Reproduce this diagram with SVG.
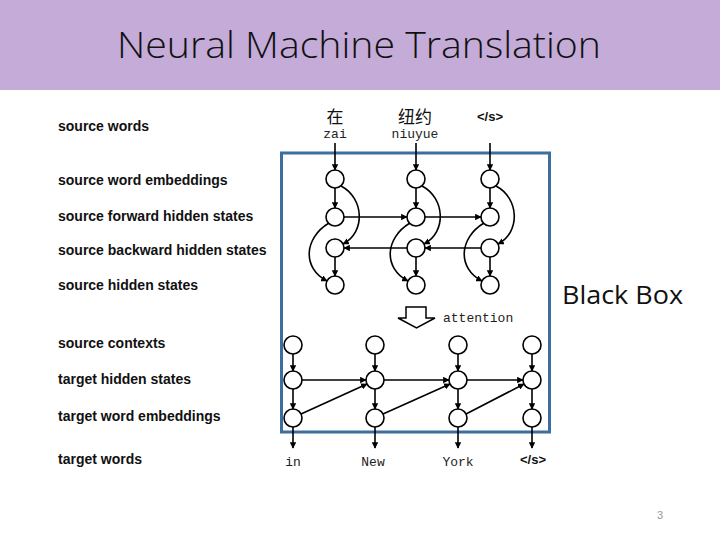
<svg xmlns="http://www.w3.org/2000/svg" width="720" height="540" viewBox="0 0 720 540">
<style>
.lbl{font-family:"Liberation Sans",Arial,sans-serif;font-weight:bold;font-size:14px;fill:#111}
.node{fill:#fff;stroke:#000;stroke-width:1.6}
.e{fill:none;stroke:#000;stroke-width:1.6;marker-end:url(#ah)}
.mono{font-family:"Liberation Mono","DejaVu Sans Mono",monospace;font-size:13px;fill:#222}
</style>
<defs>
<marker id="ah" viewBox="0 0 10 10" refX="9" refY="5" markerWidth="6.5" markerHeight="6.5" orient="auto" markerUnits="userSpaceOnUse">
<path d="M0,0 L10,5 L0,10 z" fill="#000"/>
</marker>
</defs>
<rect width="720" height="540" fill="#fff"/>
<g id="header">
<rect x="0" y="0" width="720" height="90" fill="#c4abd8"/>
<text x="359" y="58" text-anchor="middle" font-family="'Open Sans','Liberation Sans',sans-serif" font-weight="300" font-size="37" fill="#111" textLength="484" lengthAdjust="spacingAndGlyphs">Neural Machine Translation</text>
</g>
<g id="labels">
<text class="lbl" x="58" y="131">source words</text>
<text class="lbl" x="58" y="185">source word embeddings</text>
<text class="lbl" x="58" y="221">source forward hidden states</text>
<text class="lbl" x="58" y="255">source backward hidden states</text>
<text class="lbl" x="58" y="290">source hidden states</text>
<text class="lbl" x="58" y="348">source contexts</text>
<text class="lbl" x="58" y="384">target hidden states</text>
<text class="lbl" x="58" y="421">target word embeddings</text>
<text class="lbl" x="58" y="464">target words</text>
</g>
<g id="blackbox">
<rect x="281.5" y="153" width="268" height="279" fill="none" stroke="#3d6f9e" stroke-width="3"/>
<text x="562" y="304" font-family="'Open Sans','Liberation Sans',sans-serif" font-size="25" fill="#111" textLength="121" lengthAdjust="spacingAndGlyphs">Black Box</text>
</g>
<g id="source-words">
<text x="335" y="123" text-anchor="middle" font-family="'Noto Sans CJK SC',sans-serif" font-size="17" fill="#111">在</text>
<text x="335" y="138" text-anchor="middle" class="mono" font-size="11">zai</text>
<text x="415" y="123" text-anchor="middle" font-family="'Noto Sans CJK SC',sans-serif" font-size="17" fill="#111">纽约</text>
<text x="415" y="138" text-anchor="middle" class="mono" font-size="11">niuyue</text>
<text x="490" y="121" text-anchor="middle" font-family="'Liberation Sans',sans-serif" font-weight="bold" font-size="13" fill="#111">&lt;/s&gt;</text>
</g>
<g id="connectors">
<path class="e" d="M335,143 V170"/>
<path class="e" d="M416,143 V170"/>
<path class="e" d="M490,143 V170"/>
<path class="e" d="M335,188 V208"/>
<path class="e" d="M416,188 V208"/>
<path class="e" d="M490,188 V208"/>
<path class="e" d="M335,257 V276"/>
<path class="e" d="M416,257 V276"/>
<path class="e" d="M490,257 V276"/>
<path class="e" d="M344,217 H407"/>
<path class="e" d="M425,217 H481"/>
<path class="e" d="M481,248 H425"/>
<path class="e" d="M407,248 H344"/>
<path class="e" d="M341,186 C364,198 366,232 343,244"/>
<path class="e" d="M422,186 C445,198 447,232 424,244"/>
<path class="e" d="M496,186 C519,198 521,232 498,244"/>
<path class="e" d="M329,223 C304,238 302,268 327,281"/>
<path class="e" d="M410,223 C385,238 383,268 408,281"/>
<path class="e" d="M484,223 C459,238 457,268 482,281"/>
<path d="M406,307 H426 V318 H435 L416.5,328 L398,318 H406 Z" fill="#fff" stroke="#000" stroke-width="1.5"/>
<path class="e" d="M293,354 V371"/>
<path class="e" d="M375,354 V371"/>
<path class="e" d="M458,354 V371"/>
<path class="e" d="M532,354 V371"/>
<path class="e" d="M293,389 V409"/>
<path class="e" d="M375,389 V409"/>
<path class="e" d="M458,389 V409"/>
<path class="e" d="M532,389 V409"/>
<path class="e" d="M302,380 H366"/>
<path class="e" d="M384,380 H449"/>
<path class="e" d="M467,380 H523"/>
<path class="e" d="M301,414 L367,384"/>
<path class="e" d="M383,414 L450,384"/>
<path class="e" d="M466,414 L524,384"/>
<path class="e" d="M293,427 V448"/>
<path class="e" d="M375,427 V448"/>
<path class="e" d="M458,427 V448"/>
<path class="e" d="M532,427 V448"/>
</g>
<g id="source-nodes">
<circle class="node" cx="335" cy="179" r="9"/><circle class="node" cx="416" cy="179" r="9"/><circle class="node" cx="490" cy="179" r="9"/>
<circle class="node" cx="335" cy="217" r="9"/><circle class="node" cx="416" cy="217" r="9"/><circle class="node" cx="490" cy="217" r="9"/>
<circle class="node" cx="335" cy="248" r="9"/><circle class="node" cx="416" cy="248" r="9"/><circle class="node" cx="490" cy="248" r="9"/>
<circle class="node" cx="335" cy="285" r="9"/><circle class="node" cx="416" cy="285" r="9"/><circle class="node" cx="490" cy="285" r="9"/>
</g>
<g id="attention-label">
<text class="mono" x="443" y="322">attention</text>
</g>
<g id="target-nodes">
<circle class="node" cx="293" cy="345" r="9"/><circle class="node" cx="375" cy="345" r="9"/><circle class="node" cx="458" cy="345" r="9"/><circle class="node" cx="532" cy="345" r="9"/>
<circle class="node" cx="293" cy="380" r="9"/><circle class="node" cx="375" cy="380" r="9"/><circle class="node" cx="458" cy="380" r="9"/><circle class="node" cx="532" cy="380" r="9"/>
<circle class="node" cx="293" cy="418" r="9"/><circle class="node" cx="375" cy="418" r="9"/><circle class="node" cx="458" cy="418" r="9"/><circle class="node" cx="532" cy="418" r="9"/>
</g>
<g id="target-words">
<text class="mono" x="293" y="466" text-anchor="middle" font-size="14">in</text>
<text class="mono" x="373" y="466" text-anchor="middle" font-size="14">New</text>
<text class="mono" x="458" y="466" text-anchor="middle" font-size="14">York</text>
<text x="533" y="464" text-anchor="middle" font-family="'Liberation Sans',sans-serif" font-weight="bold" font-size="13" fill="#111">&lt;/s&gt;</text>
</g>
<text x="660" y="519" text-anchor="middle" font-family="'Liberation Sans',sans-serif" font-size="11" fill="#999">3</text>
</svg>
